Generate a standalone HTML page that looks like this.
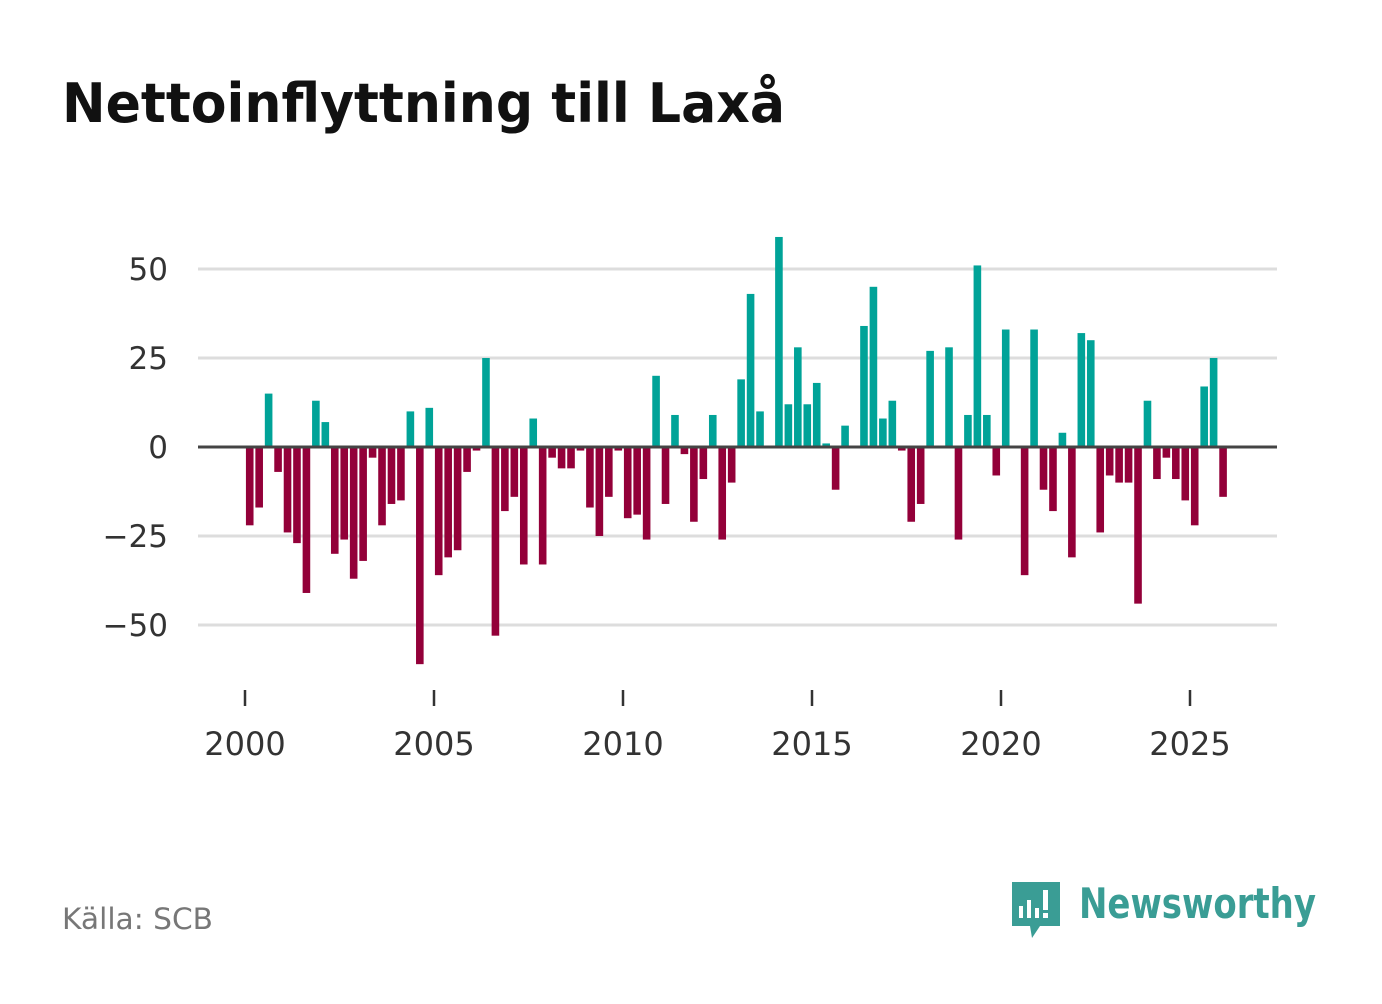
<!DOCTYPE html>
<html><head><meta charset="utf-8"><style>
body{margin:0;background:#fff;width:1382px;height:999px;overflow:hidden;font-family:"Liberation Sans","DejaVu Sans",sans-serif}
</style></head><body>
<svg width="1382" height="999">
<text x="62" y="122" font-size="54" font-weight="bold" fill="#111" textLength="723" lengthAdjust="spacingAndGlyphs" font-family="'DejaVu Sans','Liberation Sans',sans-serif">Nettoinflyttning till Laxå</text>
<g id="grid"></g><g id="bars"></g><g id="axes"></g>
<text x="62" y="929" font-size="29" fill="#777" textLength="151" lengthAdjust="spacingAndGlyphs" font-family="'DejaVu Sans','Liberation Sans',sans-serif">Källa: SCB</text>
<g>
<path d="M1012 882 h48 v44 h-20 l-8 12 l-2 -12 h-18 z" fill="#3a9d95"/>
<rect x="1019" y="906" width="4" height="12" fill="#fff"/><rect x="1027" y="900" width="4" height="18" fill="#fff"/><rect x="1035" y="908" width="4" height="10" fill="#fff"/><rect x="1043" y="890" width="5" height="20" fill="#fff"/><rect x="1043" y="913" width="5" height="5" fill="#fff"/>
<text x="1079" y="918" font-size="42" font-weight="bold" fill="#3a9d95" textLength="237" lengthAdjust="spacingAndGlyphs" font-family="'DejaVu Sans','Liberation Sans',sans-serif">Newsworthy</text>
</g>
</svg>
<script>
const years=[2000,2005,2010,2015,2020,2025];
const yTicks=[50,25,0,-25,-50];
const yTickLabels=["50","25","0","−25","−50"];
const values=[-22,-17,15,-7,-24,-27,-41,13,7,-30,-26,-37,-32,-3,-22,-16,-15,10,-61,11,-36,-31,-29,-7,-1,25,-53,-18,-14,-33,8,-33,-3,-6,-6,-1,-17,-25,-14,-1,-20,-19,-26,20,-16,9,-2,-21,-9,9,-26,-10,19,43,10,0,59,12,28,12,18,1,-12,6,0,34,45,8,13,-1,-21,-16,27,0,28,-26,9,51,9,-8,33,0,-36,33,-12,-18,4,-31,32,30,-24,-8,-10,-10,-44,13,-9,-3,-9,-15,-22,17,25,-14];
const startYear=2000;
const NS="http://www.w3.org/2000/svg";
const xs=t=>245+(t-2000)*37.8;
const ys=v=>447-v*3.56;
function mk(tag,attrs,parent){const e=document.createElementNS(NS,tag);for(const k in attrs)e.setAttribute(k,attrs[k]);parent.appendChild(e);return e;}
const grid=document.getElementById('grid'),bars=document.getElementById('bars'),axes=document.getElementById('axes');
yTicks.forEach((v,i)=>{
 if(v!==0){const l=mk('line',{x1:198,x2:1277,y1:ys(v),y2:ys(v),stroke:'#ddd','stroke-width':3},grid);
 
 }
 const t=mk('text',{x:168,y:ys(v)+11,'font-size':31,fill:'#333','text-anchor':'end','font-family':"'DejaVu Sans','Liberation Sans',sans-serif"},axes);
 t.textContent=yTickLabels[i];
 
 
});
values.forEach((v,i)=>{
 const c=xs(startYear+(i+0.5)/4);
 const r=mk('rect',{x:c-3.8,y:Math.min(ys(v),ys(0)),width:7.6,height:Math.abs(ys(v)-ys(0)),fill:v>=0?'#00a398':'#930039'},bars);
 
 
});
const z=mk('line',{x1:198,x2:1277,y1:ys(0),y2:ys(0),stroke:'#444','stroke-width':3},axes);


years.forEach(y=>{
 const tk=mk('line',{x1:xs(y),x2:xs(y),y1:690,y2:706,stroke:'#333','stroke-width':2.5},axes);
 
 
 const t=mk('text',{x:xs(y),y:755,'font-size':32,fill:'#333','text-anchor':'middle','font-family':"'DejaVu Sans','Liberation Sans',sans-serif"},axes);
 t.textContent=y;
 
 
});
</script>
</body></html>
